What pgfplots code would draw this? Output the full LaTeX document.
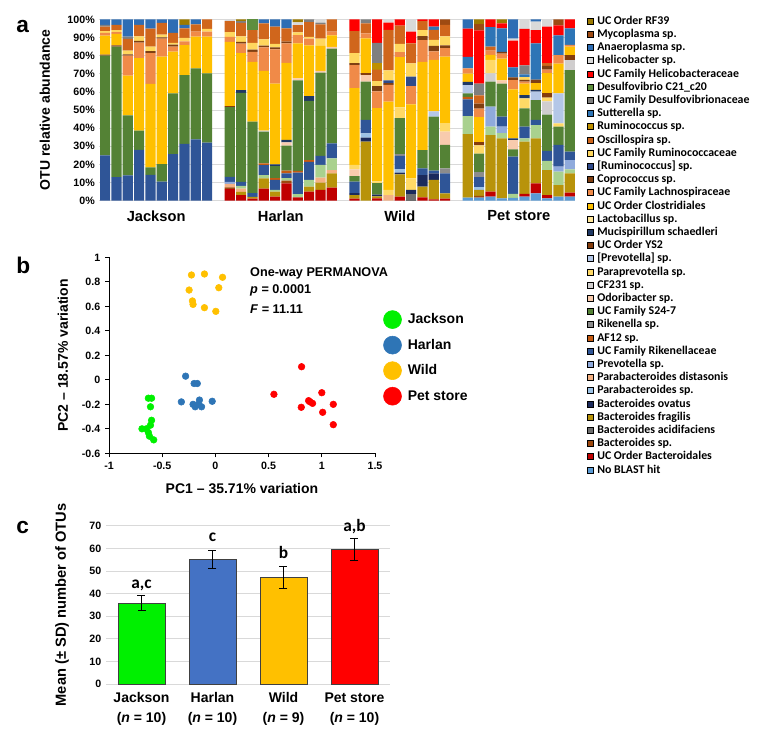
\documentclass[border=0pt]{standalone}
\usepackage{fontspec}
\setmainfont{Liberation Sans}
\newfontfamily\carlito{Carlito}
\usepackage{pgfplots}
\usepackage{pgfplotstable}
\pgfplotsset{compat=1.18}

\definecolor{cnb}{HTML}{5B9BD5}
\definecolor{cub}{HTML}{C00000}
\definecolor{cbsp}{HTML}{9E480E}
\definecolor{cbac}{HTML}{6E6E6E}
\definecolor{cbfr}{HTML}{B8930A}
\definecolor{cbov}{HTML}{1B2A5C}
\definecolor{cpsp}{HTML}{9DC3E6}
\definecolor{cpdi}{HTML}{F4B183}
\definecolor{clg}{HTML}{A9D18E}
\definecolor{cpre}{HTML}{8FAADC}
\definecolor{crik}{HTML}{2F5597}
\definecolor{caf}{HTML}{C55A11}
\definecolor{crkn}{HTML}{8C8C8C}
\definecolor{cs24}{HTML}{548235}
\definecolor{codo}{HTML}{F8CBAD}
\definecolor{ccf}{HTML}{D0CECE}
\definecolor{cppv}{HTML}{FFD966}
\definecolor{cbpv}{HTML}{B4C7E7}
\definecolor{cys2}{HTML}{843C0C}
\definecolor{cmuc}{HTML}{1F3864}
\definecolor{clac}{HTML}{FFE699}
\definecolor{cclo}{HTML}{FFC000}
\definecolor{clach}{HTML}{F08A48}
\definecolor{ccop}{HTML}{7F3F12}
\definecolor{cbrum}{HTML}{2F4A8A}
\definecolor{crumf}{HTML}{FFD75E}
\definecolor{cosc}{HTML}{D0661C}
\definecolor{crum}{HTML}{BF9000}
\definecolor{csut}{HTML}{2E75B6}
\definecolor{cdsf}{HTML}{7F7F7F}
\definecolor{cdes}{HTML}{5E8E3E}
\definecolor{chel}{HTML}{FF0000}
\definecolor{chsp}{HTML}{D9D9D9}
\definecolor{cana}{HTML}{2E6DB4}
\definecolor{cmyc}{HTML}{9E4A12}
\definecolor{crf}{HTML}{9C7A00}

\definecolor{cJ}{HTML}{00F000}
\definecolor{cHdot}{HTML}{2E75B6}
\definecolor{cHbar}{HTML}{4472C4}
\definecolor{cW}{HTML}{FFC000}
\definecolor{cP}{HTML}{FF0000}

\pgfplotsset{
  sqleg/.style={legend image code/.code={\fill[##1] (0pt,-1.8pt) rectangle (4.5pt,2.7pt);}},
  bigdot/.style={legend image code/.code={\fill[##1] (6.75pt,0pt) circle (6.75pt);}},
}

% x nb ub bsp bac bfr | bov psp pdi lg pre | rik af rkn s24 odo | cf ppv bpv ys2 muc | lac clo lach cop brum | rumf osc rum sut dsf | des hel hsp ana myc | rf
\pgfplotstableread{
x nb ub bsp bac bfr bov psp pdi lg pre rik af rkn s24 odo cf ppv bpv ys2 muc lac clo lach cop brum rumf osc rum sut dsf des hel hsp ana myc rf
0  0 0 0 0 0  0 0 0 0 0  25 0 0 55 0  0 0 0 0.5 0  0 10.5 1.5 0 0  1 2.5 0 0 1  0 0 0 3 0  0
1  0 0 0 0 0  0 0 0 0 0  13 0 0 72 0  0 0 0 0.7 0  0 6.3 1 0 0  1 3 0 0 0  0 0 0 3 0  0
2  0 0 0 0 0  0 0 0 0 0  14 0 0 33 0  0 0 0 0 0  0 22 11 0.7 0  2 6.5 0 0 1.3  0 0 0 9.5 0  0
3  0 0 0 0 0  0 0 0 0 0  28 0 0 10.6 0  0 0 0 0 0  0 40 8.5 1 0  2.5 6.4 0 0 0  0 0 0 3 0  0
4  0 0 0 0 0  0 0 0 0 0  14.2 0 0 4.2 0  0 0 0 0 0  0 46 17 1 0  2.5 10 0 0 0  0 0 0 5.1 0  0
5  0 0 0 0 0  0 0 0 0 0  10.5 0 0 9.7 0  0 0 0 0 0  0 59.2 10 0.6 0  1.5 6.5 0 0 0  0 0 0 2 0  0
6  0 0 0 0 0  0 0 0 0 0  25.7 0 0 33.5 0  0 0 0 0 0  0 23 2.8 1 0  1 5.5 0 0 0  0 0 0 7.5 0  0
7  0 0 0 0 0  0 0 0 0 0  31.3 0 0 38 0  0 0 0 0 0  0 16.5 2 0 0  2 5.2 0 0 0  0 0 0 2 0  3
8  0 0 0 0 0  0 0 0 0 0  33.8 0 0 39.2 0  0 0 0 0 0  0 17.4 2.8 0 0  0 4 0 0 0  0 0 0 2.8 0  0
9  0 0 0 0 0  0 0 0 0 0  32 0 0 38.2 0  0 0 0 0 0  0 20.2 2.8 0 0  1.5 5.3 0 0 0  0 0 0 0 0  0
11 0 6.3 1 0 0  0 0 2 0 1  2.8 0 0 38.5 0  0 0 0 0.6 0  0 35.3 2.8 0 0  2.7 6 0 0 0  0 0 1 0 0  0
12 0 3.1 0 0 1.8  0 0 1.8 1.5 0  2.2 0 0 49 0  0 0 0 0 1.5  0 20.5 5.2 1 0  3 7.4 0 0 1  0 0 0 0 0  1
13 0 1.1 0 0 1  0 0 0 0 0  2 0 0 39.5 0  0 0 0 0 0  0 33 5.5 1.2 0  3.7 7 0 0 0  6 0 0 0 0  0
14 0 6.6 0 0 5.7  0 0 0 1.8 0  5.5 1 0 17.5 0  0.5 0 0 0 0  0 33 12.9 1 0  3.5 8.8 0 0 0  0 0 0 2.2 0  0
15 0 2.2 0 0 2.8  0 0 0 1 0  5.5 1 0 6.5 0  0 0 0 0 1  0 44.5 19 1 0  2 9.5 0 0 0  0 0 0 4 0  0
16 0 9.6 1.5 0 0  0 0 0 1.3 0  2.7 1.5 0 13.8 1.8  0 0 0 0 1.3  0 42.5 10.7 1 0  0 7.3 0 0 0  0 0 0 5 0  0
17 0 1.8 0 0 0  0 0 0 1.8 0  11.8 1 0 50 1  0 0 0 0 0  0 19.3 4.6 0 0  1.5 4 0 0 0  0 0 1.5 0 0  1.7
18 0 5 0 0 2.7  0 0 0 3.7 0  10 1 0 32.6 0  0 0 0 0 2.6  0 28 3.7 0 0  1 8.2 0 0 1.5  0 0 0 0 0  0
19 0 5.9 0 0 4  0 0 2.8 7 0  5 0 0 45.9 1  0 0 0 0 0  0 13.7 0 0 0  4 7.9 0 0 1  0 0 1.8 0 0  0
20 0 7.2 0 0 7.9  0 0 1.8 6.4 0  8.3 0 0 52.2 1  0 0 0 0 0  0 6.4 2 0 0  0 6.8 0 0 0  0 0 0 0 0  0
22 0 1.1 0 0 2  1 0 0 0 0  6.4 0 0 3.1 3.7  0 2.4 0 0 0  0 42.3 12.8 1 0  5.5 12.2 0 0 0  0 6.5 0 0 0  0
23 0 0 0 0 32.5  2.2 2.4 0 0 0  7.4 0 0 21.1 3.7  0 0 0 1 0  0 19.2 2.8 0 0  0 5.5 0 0 2.2  0 0 0 0 0  0
24 0 1.3 0 0 1  1 0 0 0 0  0 0 0 6.4 0  0 1 0 0 0  0 40.4 9.2 2.8 0  2.8 6.4 3.7 0 11  0 13 0 0 0  0
25 0 0 0 0 0  0 0 3.1 0 0  0 0 0 0 0  0 2.8 0 0 0  0 48.7 9.2 1 1.5  5.5 22.4 0 0 0  0 4 1.8 0 0  0
26 0 2.2 0 0 12.3  1 1.8 0 0 0  7.4 0 1 19.8 0  0 6 0 0 0  0 27.6 2.8 0 0  4.6 10 0 0 0  0 3.5 0 0 0  0
27 0 0 0 3.7 0  2.2 0 0 0 0  0 0 0 0 0  0 6.4 0 0 0  0 40.8 10.1 0 5.2  7.3 11.1 0 0 0  0 6.4 6.8 0 0  0
28 0 1.8 0 0 5.9  6.4 0 0 0 0  3.7 0 0 10.1 0  0 0 0 0 0  0 48.7 11.9 2.2 0  3.3 5 0 0 0  0 1 0 0 0  0
29 0 0.7 0 0 10.7  3.7 0 0 0 0  1.5 0 0 29.8 0  0 0 2.8 0 0  0 28.5 4.6 3.1 0  3.3 5.5 0 1.8 0  0 4 0 0 0  0
30 0 1.1 0 0 2.9  0 0 0 0 0  11 0 2.8 12.9 7.4  0 4.6 0 0 0  0 36.8 4.6 1.5 0  5 6.4 0 0 0  0 0 0 0 3  0
32 1.7 0 0 0 35  0 0 0 9.9 0  9.2 1.5 0 1.8 0  0 0 4.6 0 1.8  0 4.6 2.8 0 0  0 0 0 6.4 0  0 15.6 0 5.1 0  0
33 1.7 0 1 0 3.3  0 1.5 0 0 0  5.5 0 2.8 10.1 0  0 4.6 0 1.8 0  0 13.8 4.6 2.8 0  0 4.6 0 0 6.4  0 29.4 0 0 3.4  2.7
34 2.2 2.8 0 0 31.2  0 0 0 4.6 11  0 0 0 13.8 0  4.6 7.4 0 0 0  0 2.8 2.3 0 0  0 2.3 0 10.7 0  0 4.3 0 0 0  0
35 1.3 0 0 0 33.1  0 0 0 2.8 3.7  5.5 0 0 18.2 1.8  0 0 0 0 0  0 11.9 2.8 1 0  0 0 0 12.9 0  0 2.8 0 0 0  2.2
36 1.5 0 0 0 0  0 0 0 2.2 0  20.6 0 0 4 5.1  0 0 0 0 1  0 27 5.1 1.5 0  0 0 0 5.5 0  0 14.7 1.2 10.6 0  0
37 2.2 1.5 0 0 28.8  0 0 0 1.8 0  6.5 0 0 10.1 0  0 5.5 0 0 1.8  0 6.4 1 1 0  1.5 0 0 1.5 5  0 20.2 5.2 0 0  0
38 4 5.5 0 0 24.8  0 0 0 7.4 0  2.8 0 0 11 0  0 0 4.6 0 1  0 3.7 0 2 0  0 0 0 20 0  0 7.3 4.6 1.3 0  0
39 1.3 1.8 0 0 13.8  0 0 0 5 0  5.5 0 0 20 0  7.4 2 0 2.5 0  0 11 2 2 0  0 1.5 0 0 0  0 20.2 4 0 0  0
40 2.2 0 0 0 6.4  0 0 0 7.4 2.8  11.9 0 0 10.1 0  0 1.8 16.5 0 0  0 16.5 4.6 0 0  0 0 0 11 0  0 5.5 0 0 3.3  0
41 2.2 2.2 0 0 10.7  0 0 0 2.2 5.1  4.6 0 0 45 0  5.5 0 0 2.8 0  0 4.6 1 0 0  0 0 0 9.1 0  0 5 0 0 0  0
}\dataA

\begin{document}
\begin{tikzpicture}
\useasboundingbox (0,0) rectangle (583.5pt,-556.5pt);

% panel letters
\node[anchor=base west, inner sep=0pt, font=\bfseries\fontsize{17}{20}\selectfont] at (12pt,-24.75pt) {a};
\node[anchor=base west, inner sep=0pt, font=\bfseries\fontsize{17}{20}\selectfont] at (12pt,-204.75pt) {b};
\node[anchor=base west, inner sep=0pt, font=\bfseries\fontsize{17}{20}\selectfont] at (12pt,-399.75pt) {c};

% ---------------- panel a ----------------
\begin{axis}[
  at={(74.6pt,-14.5pt)}, anchor=north west,
  scale only axis, width=357pt, height=136pt,
  ybar stacked, bar width=0.9,
  xmin=-0.5, xmax=41.5, ymin=0, ymax=100,
  axis line style={draw=none},
  major tick length=0pt,
  ytick={0,10,...,100},
  yticklabel={\pgfmathprintnumber{\tick}\%},
  ymajorgrids, grid style={draw=gray!30, line width=0.5pt},
  xtick={4.5,15.5,26,36.5},
  xticklabels={Jackson,Harlan,Wild,Pet store},
  xticklabel style={font=\bfseries\fontsize{11}{13}\selectfont, yshift=-4pt},
  yticklabel style={font=\bfseries\fontsize{8}{9}\selectfont},
  /pgf/number format/assume math mode=true,
  ylabel={OTU relative abundance},
  ylabel style={font=\bfseries\fontsize{10.5}{12}\selectfont, at={(axis description cs:-0.1145,0.5)}, anchor=center},
]
\pgfplotsinvokeforeach{nb,ub,bsp,bac,bfr,bov,psp,pdi,lg,pre,rik,af,rkn,s24,odo,cf,ppv,bpv,ys2,muc,lac,clo,lach,cop,brum,rumf,osc,rum,sut,dsf,des,hel,hsp,ana,myc,rf}{
  \addplot[fill=c#1, draw=none] table[x=x, y=#1] {\dataA};
}
\end{axis}

% legend of panel a
\begin{axis}[
  at={(74.6pt,-14.5pt)}, anchor=north west,
  scale only axis, width=357pt, height=136pt,
  hide axis, xmin=0, xmax=1, ymin=0, ymax=1,
  sqleg,
  legend cell align=left,
  legend style={at={(1.0242,1.0187)}, anchor=north west, draw=none, fill=none,
    inner sep=0pt, outer sep=0pt,
    font=\carlito\bfseries\fontsize{8.9}{10}\selectfont,
    row sep=1.4pt,
    nodes={inner sep=0pt, text height=6.2pt, text depth=2.3pt},
    /tikz/every odd column/.append style={column sep=2.8pt}},
]
\addlegendimage{fill=crf}\addlegendentry{UC Order RF39}
\addlegendimage{fill=cmyc}\addlegendentry{Mycoplasma sp.}
\addlegendimage{fill=cana}\addlegendentry{Anaeroplasma sp.}
\addlegendimage{fill=chsp}\addlegendentry{Helicobacter sp.}
\addlegendimage{fill=chel}\addlegendentry{UC Family Helicobacteraceae}
\addlegendimage{fill=cdes}\addlegendentry{Desulfovibrio C21\_c20}
\addlegendimage{fill=cdsf}\addlegendentry{UC Family Desulfovibrionaceae}
\addlegendimage{fill=csut}\addlegendentry{Sutterella sp.}
\addlegendimage{fill=crum}\addlegendentry{Ruminococcus sp.}
\addlegendimage{fill=cosc}\addlegendentry{Oscillospira sp.}
\addlegendimage{fill=crumf}\addlegendentry{UC Family Ruminococcaceae}
\addlegendimage{fill=cbrum}\addlegendentry{[Ruminococcus] sp.}
\addlegendimage{fill=ccop}\addlegendentry{Coprococcus sp.}
\addlegendimage{fill=clach}\addlegendentry{UC Family Lachnospiraceae}
\addlegendimage{fill=cclo}\addlegendentry{UC Order Clostridiales}
\addlegendimage{fill=clac}\addlegendentry{Lactobacillus sp.}
\addlegendimage{fill=cmuc}\addlegendentry{Mucispirillum schaedleri}
\addlegendimage{fill=cys2}\addlegendentry{UC Order YS2}
\addlegendimage{fill=cbpv}\addlegendentry{[Prevotella] sp.}
\addlegendimage{fill=cppv}\addlegendentry{Paraprevotella sp.}
\addlegendimage{fill=ccf}\addlegendentry{CF231 sp.}
\addlegendimage{fill=codo}\addlegendentry{Odoribacter sp.}
\addlegendimage{fill=cs24}\addlegendentry{UC Family S24-7}
\addlegendimage{fill=crkn}\addlegendentry{Rikenella sp.}
\addlegendimage{fill=caf}\addlegendentry{AF12 sp.}
\addlegendimage{fill=crik}\addlegendentry{UC Family Rikenellaceae}
\addlegendimage{fill=cpre}\addlegendentry{Prevotella sp.}
\addlegendimage{fill=cpdi}\addlegendentry{Parabacteroides distasonis}
\addlegendimage{fill=cpsp}\addlegendentry{Parabacteroides sp.}
\addlegendimage{fill=cbov}\addlegendentry{Bacteroides ovatus}
\addlegendimage{fill=cbfr}\addlegendentry{Bacteroides fragilis}
\addlegendimage{fill=cbac}\addlegendentry{Bacteroides acidifaciens}
\addlegendimage{fill=cbsp}\addlegendentry{Bacteroides sp.}
\addlegendimage{fill=cub}\addlegendentry{UC Order Bacteroidales}
\addlegendimage{fill=cnb}\addlegendentry{No BLAST hit}
\end{axis}

% ---------------- panel b ----------------
\begin{axis}[
  at={(81.75pt,-193pt)}, anchor=north west,
  scale only axis, width=199.5pt, height=147pt,
  xmin=-1, xmax=1.5, ymin=-0.6, ymax=1,
  axis lines*=left, axis line style={black, line width=0.6pt},
  tick align=outside, major tick length=3pt, tick style={black, line width=0.6pt},
  xtick={-1,-0.5,0,0.5,1,1.5},
  ytick={-0.6,-0.4,-0.2,0,0.2,0.4,0.6,0.8,1},
  ticklabel style={font=\bfseries\fontsize{8}{9}\selectfont},
  /pgf/number format/assume math mode=true,
  xlabel={PC1 -- 35.71\% variation},
  ylabel={PC2 -- 18.57\% variation},
  label style={font=\bfseries\fontsize{10.5}{12}\selectfont},
  xlabel style={at={(axis description cs:0.5,-0.177)}, anchor=center},
  ylabel style={at={(axis description cs:-0.173,0.5)}, anchor=center},
  clip=false, bigdot,
  legend cell align=left,
  legend style={at={(1.03,0.731)}, anchor=north west, draw=none, fill=none,
    inner sep=0pt, font=\bfseries\fontsize{10.5}{12}\selectfont,
    row sep=5.25pt, nodes={inner sep=0pt},
    /tikz/every odd column/.append style={column sep=4.5pt}},
]
\addplot[only marks, mark=*, mark size=2.5pt, color=cJ] coordinates {
(-0.63,-0.15) (-0.60,-0.15) (-0.61,-0.22) (-0.60,-0.33) (-0.61,-0.37)
(-0.69,-0.40) (-0.65,-0.40) (-0.63,-0.43) (-0.62,-0.46) (-0.58,-0.49)};
\addlegendentry{Jackson}
\addplot[only marks, mark=*, mark size=2.5pt, color=cHdot] coordinates {
(-0.28,0.03) (-0.20,-0.03) (-0.17,-0.03) (-0.32,-0.18) (-0.21,-0.20)
(-0.19,-0.22) (-0.15,-0.165) (-0.13,-0.22) (-0.03,-0.175) (-0.16,-0.20)};
\addlegendentry{Harlan}
\addplot[only marks, mark=*, mark size=2.5pt, color=cW] coordinates {
(-0.225,0.856) (-0.103,0.864) (0.067,0.837) (-0.247,0.733) (0.032,0.752)
(-0.216,0.644) (-0.21,0.616) (-0.103,0.589) (0.004,0.559)};
\addlegendentry{Wild}
\addplot[only marks, mark=*, mark size=2.5pt, color=cP] coordinates {
(0.81,0.107) (0.55,-0.118) (1.0,-0.105) (0.876,-0.170) (0.913,-0.192)
(0.807,-0.224) (1.108,-0.20) (1.008,-0.265) (1.108,-0.366) (0.89,-0.18)};
\addlegendentry{Pet store}
\node[anchor=west, inner sep=0pt, font=\bfseries\fontsize{9.5}{11}\selectfont] at (axis cs:0.325,0.872) {One-way PERMANOVA};
\node[anchor=west, inner sep=0pt, font=\bfseries\fontsize{9.5}{11}\selectfont] at (axis cs:0.325,0.727) {\textit{p} = 0.0001};
\node[anchor=west, inner sep=0pt, font=\bfseries\fontsize{9.5}{11}\selectfont] at (axis cs:0.325,0.578) {\textit{F} = 11.11};
\end{axis}

% ---------------- panel c ----------------
\begin{axis}[
  at={(79.5pt,-394.3pt)}, anchor=north west,
  scale only axis, width=213pt, height=118.7pt,
  xmin=-0.5, xmax=3.5, ymin=0, ymax=70,
  ytick={0,10,...,70},
  ymajorgrids, grid style={draw=gray!30, line width=0.5pt},
  axis line style={draw=none}, major tick length=0pt,
  xtick={0,1,2,3},
  xticklabels={{Jackson\\(\textit{n} = 10)},{Harlan\\(\textit{n} = 10)},{Wild\\(\textit{n} = 9)},{Pet store\\(\textit{n} = 10)}},
  xticklabel style={align=center, font=\bfseries\fontsize{10.5}{15}\selectfont, yshift=-3pt},
  yticklabel style={font=\bfseries\fontsize{8}{9}\selectfont},
  /pgf/number format/assume math mode=true,
  ylabel={Mean (± SD) number of OTUs},
  ylabel style={font=\bfseries\fontsize{11}{13}\selectfont, at={(axis description cs:-0.155,0.5)}, anchor=center},
  clip=false,
]
\addplot[ybar, bar width=0.66, bar shift=0pt, fill=cJ, draw=black!75, line width=0.6pt] coordinates {(0,35.8)};
\addplot[ybar, bar width=0.66, bar shift=0pt, fill=cHbar, draw=black!75, line width=0.6pt] coordinates {(1,55.1)};
\addplot[ybar, bar width=0.66, bar shift=0pt, fill=cW, draw=black!75, line width=0.6pt] coordinates {(2,47.2)};
\addplot[ybar, bar width=0.66, bar shift=0pt, fill=cP, draw=black!75, line width=0.6pt] coordinates {(3,59.5)};
\addplot[forget plot, sharp plot, draw=none, mark=none,
  error bars/.cd, y dir=both, y explicit,
  error bar style={black, line width=0.6pt},
  error mark options={black, mark size=3pt, line width=0.6pt, rotate=90}]
  coordinates {(0,35.8) +- (0,3.3) (1,55.1) +- (0,3.9) (2,47.2) +- (0,5.0) (3,59.5) +- (0,4.8)};
\node[anchor=base, inner sep=0pt, font=\carlito\bfseries\fontsize{13}{15}\selectfont] at (axis cs:0,42.3) {a,c};
\node[anchor=base, inner sep=0pt, font=\carlito\bfseries\fontsize{13}{15}\selectfont] at (axis cs:1,62.9) {c};
\node[anchor=base, inner sep=0pt, font=\carlito\bfseries\fontsize{13}{15}\selectfont] at (axis cs:2,55.6) {b};
\node[anchor=base, inner sep=0pt, font=\carlito\bfseries\fontsize{13}{15}\selectfont] at (axis cs:3,67.6) {a,b};
\end{axis}
\end{tikzpicture}
\end{document}
